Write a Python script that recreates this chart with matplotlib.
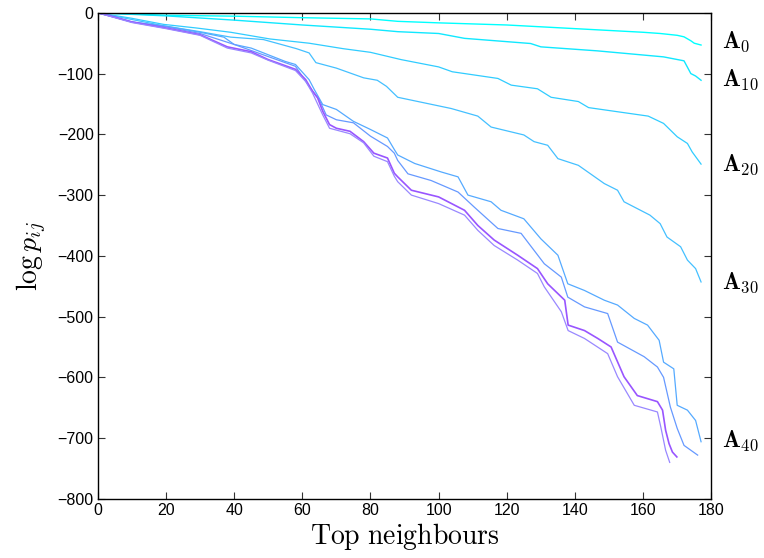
import matplotlib
matplotlib.use('Agg')
import matplotlib.pyplot as plt

plt.rcParams['font.family'] = ['Liberation Sans', 'DejaVu Sans']
plt.rcParams['mathtext.fontset'] = 'cm'

# log-probability of the top neighbours, one curve per A_k
x_a0 = [0, 20, 40, 60, 80, 88, 100, 120, 140, 160, 165, 170, 172, 174, 175, 177]
y_a0 = [0, -4, -5.5, -8, -10, -14, -16.5, -20, -26, -32, -34, -37, -39.5, -46, -50, -53]

x_a10 = [0, 20, 40, 60, 80, 88, 100, 107.6, 127, 130, 146.6, 166, 172, 174, 175.4, 177]
y_a10 = [0, -5, -12, -20, -27, -31, -34, -42, -50.5, -56, -62.6, -72.5, -79, -100, -104, -111]

x_a20 = [0, 10, 19.3, 29, 39, 50.5, 62, 72, 80, 89, 100, 104, 117.4, 121.3, 129, 133, 141,
         144, 161.5, 166, 170, 173, 174.4, 177]
y_a20 = [0, -9, -19, -25, -32, -43, -50, -59, -65, -77, -89, -97, -108, -119, -125, -139, -146,
         -156, -170, -182, -204, -215, -229, -249]

x_a30 = [0, 10, 20, 30, 39, 48.6, 58.3, 62, 64, 70, 78, 82, 84.7, 88, 103.7, 111.5, 115.4,
         125, 128, 132, 135, 141, 148.6, 152.5, 154.4, 162, 165, 167, 171, 173, 175.4, 177]
y_a30 = [0, -11, -22, -31, -40, -44, -59, -66, -82, -91, -107, -111, -121, -139, -157.5, -170,
         -188, -201, -212, -218, -240, -251, -281, -292, -311, -333, -347, -369, -385, -407,
         -421, -443]

x_a40 = [0, 10, 20, 30, 37, 40, 45, 50, 55, 58, 62, 63.5, 66, 70, 75, 80, 85, 87, 88, 93,
         100.8, 105.7, 108.6, 115.4, 118.3, 125, 130, 135, 137.9, 142.8, 148.6, 152.5, 157.4,
         161.3, 164.7, 166, 169, 170, 173, 175.4, 177]
y_a40 = [0, -15, -22, -32, -40, -52, -58, -69, -80, -85, -110, -126, -151, -159, -178.6, -192,
         -206, -225, -234, -248, -262, -270, -300, -311, -325, -339, -372, -399, -446, -457,
         -473, -481, -503, -514, -539, -575, -586, -646, -654, -671, -706]

x_a50 = [0, 10, 20, 30, 40, 50, 58, 62, 65, 67, 70, 75, 80, 85, 87, 88, 91, 97.8, 105.7,
         110.5, 117.4, 124.2, 131, 136, 137.9, 142.8, 149.6, 152.5, 160.3, 164.2, 166, 168,
         170, 172, 174, 176]
y_a50 = [0, -15, -23, -34, -52, -72, -88, -121, -143, -168, -176, -181, -203, -220, -231, -243,
         -265, -276, -295, -320, -355, -363, -413, -435, -468, -484, -495, -542, -566, -583,
         -600, -649, -684, -712, -720, -728]

x_a60 = [0, 5, 10, 20, 30, 38, 45, 50, 55, 58, 61, 63, 64.5, 66, 68, 70, 74, 78, 81, 85, 87,
         88, 92, 100, 107.6, 111.5, 116.3, 123.2, 129, 132, 137, 138, 142.8, 146.7, 150.6,
         154.4, 158.3, 164.2, 165.7, 166.6, 167.6, 168.6, 169.9]
y_a60 = [0, -7, -15, -25, -36, -56, -64, -77, -87, -93, -110, -129, -140, -162, -184, -190,
         -195, -212, -231, -239, -264, -270, -292, -303, -325, -350, -374, -399, -421, -446,
         -473, -514, -523, -536, -550, -599, -630, -640, -654, -687, -709, -723, -731]

x_a70 = [0, 5, 10, 20, 30, 38, 45, 50, 58, 61, 63, 66, 68, 74, 78, 81, 85, 87, 88, 92, 100,
         107.6, 111.5, 116.3, 123.2, 129, 131, 136, 138, 142.8, 149.6, 152.5, 157.4, 164.2,
         165.2, 166.6, 167.8]
y_a70 = [0, -8, -16, -26, -37, -58, -66, -78, -95, -113, -132, -168, -190, -199, -214, -236,
         -245, -269, -278, -300, -314, -333, -358, -383, -407, -429, -451, -492, -523, -536,
         -561, -599, -646, -657, -682, -720, -740]

curves = [(x_a0, y_a0), (x_a10, y_a10), (x_a20, y_a20), (x_a30, y_a30),
          (x_a40, y_a40), (x_a50, y_a50), (x_a60, y_a60), (x_a70, y_a70)]
colours = ['#00ffff', '#10e8ff', '#30ccff', '#44c0ff',
           '#55aaff', '#6699ff', '#9955ff', '#9988ff']
widths = [1.0, 1.0, 0.9, 0.9, 0.9, 0.9, 1.2, 0.9]

label_names = ['0', '10', '20', '30', '40']
label_y = [-47, -110, -250, -445, -705]

fig = plt.figure(figsize=(7.64, 5.58), dpi=100)
ax = fig.add_axes([0.128, 0.106, 0.803, 0.871])

for (xs, ys), c, lw in zip(curves, colours, widths):
    ax.plot(xs, ys, color=c, linewidth=lw)

ax.set_xlim(0, 180)
ax.set_ylim(-800, 0)
ax.set_xticks(range(0, 181, 20))
ax.set_yticks(range(-800, 1, 100))
ax.tick_params(direction='in', length=5, width=0.8, top=True, right=True,
               labelsize=11.5, colors='#333333', labelcolor='black', pad=3)
for s in ax.spines.values():
    s.set_linewidth(1.0)

ax.set_xlabel(r'$\mathrm{Top\ neighbours}$', fontsize=20, labelpad=2)
ax.set_ylabel(r'$\log p_{ij}$', fontsize=20, labelpad=6)

for name, yv in zip(label_names, label_y):
    ax.text(1.017, yv, r'$\mathbf{A}_{%s}$' % name, transform=ax.get_yaxis_transform(),
            fontsize=17, va='center', ha='left')

fig.savefig('out.png', dpi=100)
